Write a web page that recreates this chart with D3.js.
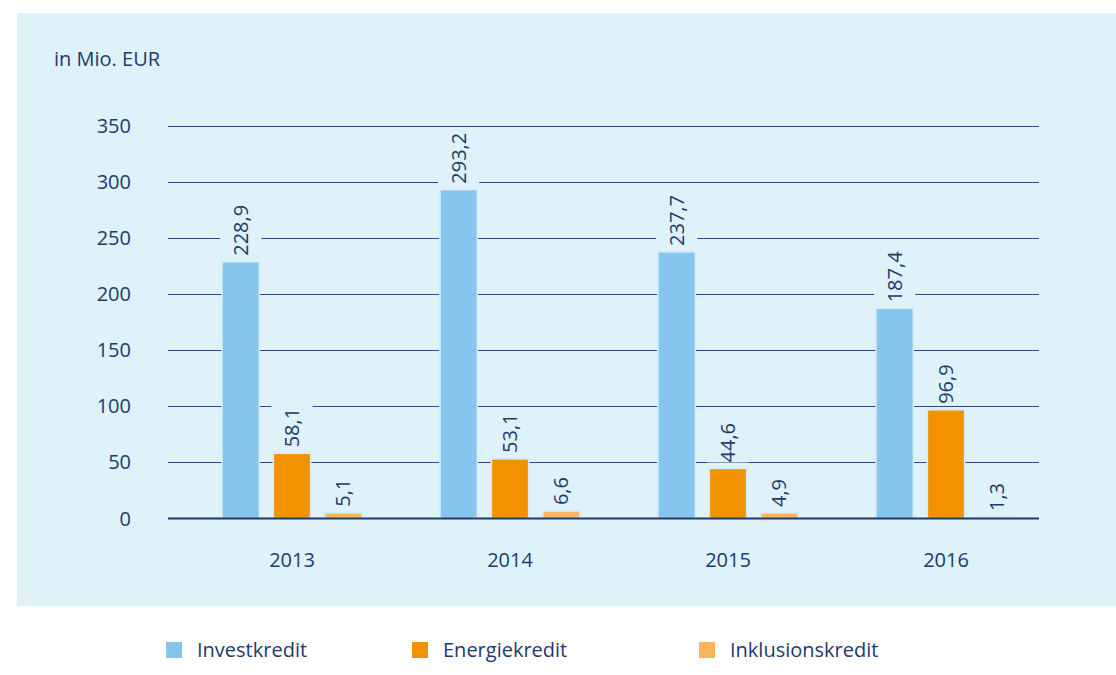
<!DOCTYPE html>
<html>
<head>
<meta charset="utf-8">
<script src="https://cdn.jsdelivr.net/npm/d3@7"></script>
<style>
  body { margin: 0; background: #fff; }
  svg { display: block; font-family: "Open Sans", "Noto Sans", sans-serif; }
</style>
</head>
<body>
<script>
// data
var years = ["2013", "2014", "2015", "2016"];
var seriesNames = ["Investkredit", "Energiekredit", "Inklusionskredit"];
var invest = [228.9, 293.2, 237.7, 187.4];
var energie = [58.1, 53.1, 44.6, 96.9];
var inklusion = [5.1, 6.6, 4.9, 1.3];
var yTicks = [0, 50, 100, 150, 200, 250, 300, 350];

var values = [invest, energie, inklusion];
var colors = ["#85c5ee", "#f39200", "#fbb45e"];
var bg = "#dff1f9";
var ink = "#1e3a6c";

var W = 1116, H = 675;

var svg = d3.select("body").append("svg")
    .attr("width", W)
    .attr("height", H);

// light blue panel
svg.append("rect")
    .attr("x", 17).attr("y", 13)
    .attr("width", W - 17).attr("height", 593)
    .attr("fill", bg);

// scales
var y = d3.scaleLinear().domain([0, 350]).range([518.5, 126]);
var x0 = d3.scaleBand().domain(years).range([183, 1055]);
var x1 = d3.scaleBand().domain(seriesNames).range([0, x0.bandwidth()])
    .paddingInner(0.275).paddingOuter(0.76);

var gridLeft = 168, gridRight = 1039;

// unit label
svg.append("text")
    .attr("x", 54).attr("y", 66)
    .attr("fill", ink)
    .style("font-size", "20px")
    .text("in Mio. EUR");

// gridlines
svg.append("g").selectAll("line")
    .data(yTicks.filter(function(d) { return d > 0; }))
  .enter().append("line")
    .attr("x1", gridLeft).attr("x2", gridRight)
    .attr("y1", function(d) { return Math.round(y(d)) + 0.5; })
    .attr("y2", function(d) { return Math.round(y(d)) + 0.5; })
    .attr("stroke", "#2c4a80")
    .attr("stroke-width", 1.2);

// y tick labels
svg.append("g").selectAll("text")
    .data(yTicks)
  .enter().append("text")
    .attr("x", 131)
    .attr("y", function(d) { return y(d); })
    .attr("dy", "0.35em")
    .attr("text-anchor", "end")
    .attr("fill", ink)
    .style("font-size", "20px")
    .text(function(d) { return d; });

// flatten bars
var bars = [];
years.forEach(function(yr, i) {
  seriesNames.forEach(function(s, j) {
    bars.push({ year: yr, series: s, value: values[j][i], color: colors[j] });
  });
});

var fmt = function(v) { return v.toFixed(1).replace(".", ","); };

var g = svg.append("g");

// bars
g.selectAll("rect.bar")
    .data(bars)
  .enter().append("rect")
    .attr("class", "bar")
    .attr("x", function(d) { return x0(d.year) + x1(d.series); })
    .attr("width", x1.bandwidth())
    .attr("y", function(d) { return y(d.value); })
    .attr("height", function(d) { return y(0) - y(d.value); })
    .attr("fill", function(d) { return d.color; })
    .attr("stroke", "#d2ecfa")
    .attr("stroke-width", 1.5);

// value labels, with a background box that hides the grid
var lab = g.selectAll("g.lab")
    .data(bars)
  .enter().append("g")
    .attr("class", "lab")
    .attr("transform", function(d) {
      var cx = x0(d.year) + x1(d.series) + x1.bandwidth() / 2;
      return "translate(" + cx + "," + (y(d.value) - 6) + ")";
    });

lab.append("rect")
    .attr("fill", bg);

lab.append("text")
    .attr("transform", "rotate(-90)")
    .attr("dy", "0.35em")
    .attr("fill", ink)
    .style("font-size", "20px")
    .text(function(d) { return fmt(d.value); });

lab.each(function() {
  var t = d3.select(this).select("text").node().getComputedTextLength();
  d3.select(this).select("rect")
    .attr("x", -x1.bandwidth() / 2 - 2)
    .attr("width", x1.bandwidth() + 4)
    .attr("y", -t - 5)
    .attr("height", t + 5);
});

// baseline
svg.append("line")
    .attr("x1", gridLeft).attr("x2", gridRight)
    .attr("y1", y(0)).attr("y2", y(0))
    .attr("stroke", "#1e3a6c")
    .attr("stroke-width", 2.2);

// x labels
svg.append("g").selectAll("text")
    .data(years)
  .enter().append("text")
    .attr("x", function(d) { return x0(d) + x0.bandwidth() / 2; })
    .attr("y", 567)
    .attr("text-anchor", "middle")
    .attr("fill", ink)
    .style("font-size", "20px")
    .text(function(d) { return d; });

// legend
var legX = [166, 412, 699];
var leg = svg.append("g").selectAll("g")
    .data(seriesNames)
  .enter().append("g")
    .attr("transform", function(d, i) { return "translate(" + legX[i] + ",642)"; });

leg.append("rect")
    .attr("width", 16).attr("height", 16)
    .attr("fill", function(d, i) { return colors[i]; });

leg.append("text")
    .attr("x", 31).attr("y", 8)
    .attr("dy", "0.35em")
    .attr("fill", ink)
    .style("font-size", "20px")
    .text(function(d) { return d; });
</script>
</body>
</html>
